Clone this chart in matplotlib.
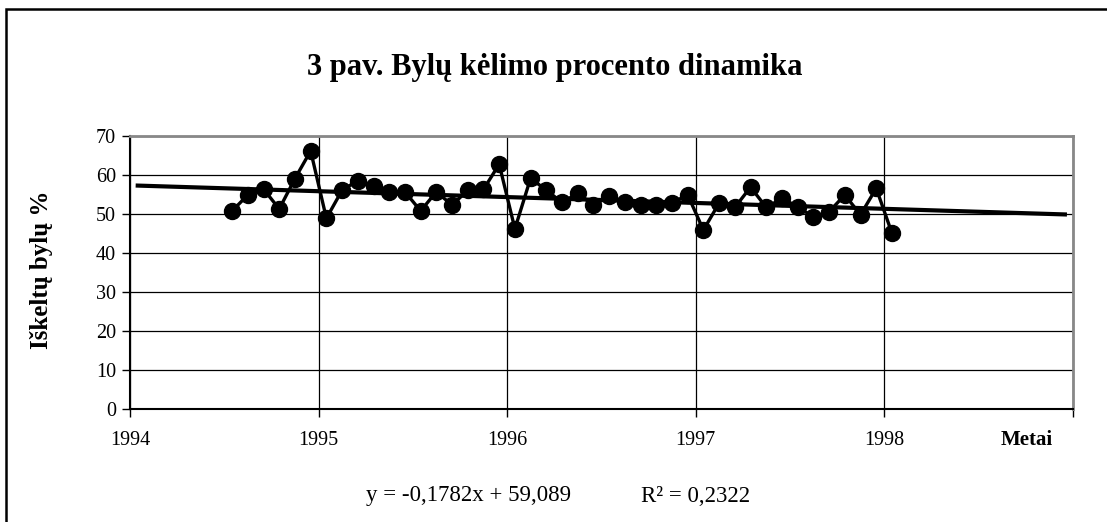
import numpy as np
import pandas as pd
import matplotlib
matplotlib.use('Agg')
import matplotlib.pyplot as plt
from matplotlib.patches import Rectangle

plt.rcParams['font.family'] = ['Liberation Serif', 'DejaVu Serif']

# menesiniai duomenys: 1994-07 ... 1998-01
menesiai = pd.date_range('1994-07-01', '1998-01-01', freq='MS')
procentai = [50.7, 54.8, 56.3, 51.2, 59.0, 66.1, 48.8, 56.0, 58.5, 57.1,
             55.6, 55.6, 50.7, 55.6, 52.2, 56.0, 56.2, 62.7, 46.1, 59.1,
             56.0, 52.9, 55.2, 52.2, 54.4, 53.1, 52.2, 52.2, 52.8, 54.8,
             45.8, 52.7, 51.6, 56.8, 51.6, 53.9, 51.8, 49.1, 50.5, 54.8,
             49.7, 56.5, 45.0]
metai = [1994, 1995, 1996, 1997, 1998, 1999]
metai_lbl = ['1994', '1995', '1996', '1997', '1998', '']
y_ticks = [0, 10, 20, 30, 40, 50, 60, 70]

x = menesiai.year + (menesiai.month - 0.5) / 12.0

# trend line (linear), extended forward/backward like in Excel
k, b = np.polyfit(x, procentai, 1)
tx = np.array([1994.03, 1998.97])

fig = plt.figure(figsize=(11.07, 5.22), dpi=100)
ax = fig.add_axes([130 / 1107, 1 - 408.5 / 522, 942.6 / 1107, 272.8 / 522])

ax.plot(x, procentai, color='black', lw=2.4, marker='o', ms=11.5, zorder=3)
ax.plot(tx, k * tx + b, color='black', lw=3, solid_capstyle='butt', zorder=4)

ax.set_xlim(1994, 1999)
ax.set_ylim(0, 70)
ax.set_xticks(metai)
ax.set_xticklabels(metai_lbl)
ax.set_yticks(y_ticks)
ax.grid(True, color='black', lw=0.9)
ax.set_axisbelow(True)
ax.tick_params(direction='out', length=6, width=1, labelsize=14.5, color='black')
ax.tick_params(axis='x', pad=10)
ax.tick_params(axis='y', pad=4)

for s in ['left', 'bottom']:
    ax.spines[s].set_color('black')
    ax.spines[s].set_linewidth(1.5)
for s in ['top', 'right']:
    ax.spines[s].set_color('#888888')
    ax.spines[s].set_linewidth(2)

fig.text(555 / 1107, 1 - 68 / 522, '3 pav. Bylų kėlimo procento dinamika',
         ha='center', va='center', fontsize=22, fontweight='bold')
fig.text(42 / 1107, 1 - 270 / 522, 'Iškeltų bylų %', rotation=90,
         ha='center', va='center', fontsize=18, fontweight='bold')
fig.text(1027 / 1107, 1 - 440 / 522, 'Metai', ha='center', va='center',
         fontsize=15, fontweight='bold')
fig.text(469 / 1107, 1 - 496 / 522, 'y = -0,1782x + 59,089',
         ha='center', va='center', fontsize=16.5)
fig.text(696 / 1107, 1 - 496 / 522, 'R² = 0,2322',
         ha='center', va='center', fontsize=16.5)

# chart frame (only top and left edges visible)
fig.patches.append(Rectangle((6 / 1107, -0.2), 1.2, 1 - 9 / 522 + 0.2,
                             transform=fig.transFigure, fill=False,
                             edgecolor='black', lw=1.8))

fig.savefig('out.png', dpi=100)
